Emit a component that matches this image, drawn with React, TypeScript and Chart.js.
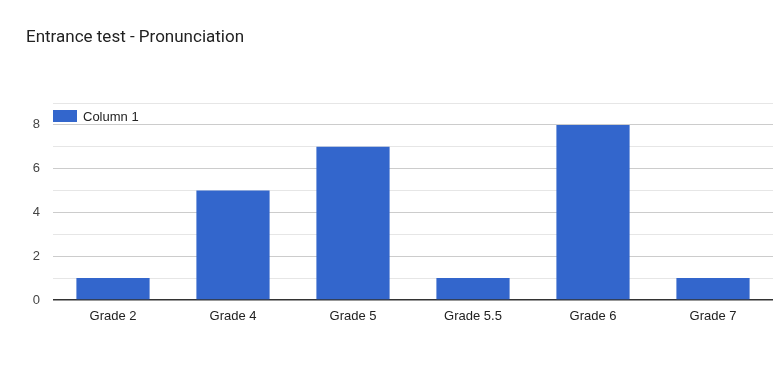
import React, { useEffect, useRef } from "react";
import { Chart, registerables } from "chart.js";

Chart.register(...registerables);

const TITLE = "Entrance test - Pronunciation";
const SERIES_LABEL = "Column 1";
const CATEGORIES = ["Grade 2", "Grade 4", "Grade 5", "Grade 5.5", "Grade 6", "Grade 7"];
const VALUES = [1, 5, 7, 1, 8, 1];
const Y_MAX = 9;
const BAR_COLOR = "#3366cc";

const FONT = "'Liberation Sans', Arial, sans-serif";

const overlayPlugin = {
  id: "overlay",
  afterDraw(chart: any) {
    const ctx = chart.ctx;
    const area = chart.chartArea;
    ctx.save();
    // title
    ctx.font = "17px Roboto, 'Noto Sans', sans-serif";
    ctx.fillStyle = "#222222";
    ctx.textAlign = "left";
    ctx.textBaseline = "middle";
    ctx.fillText(TITLE, 26, 37.5);
    // legend
    const ds = chart.data.datasets[0];
    ctx.fillStyle = ds.backgroundColor;
    ctx.fillRect(area.left, area.top + 7, 24, 12);
    ctx.font = "13px " + FONT;
    ctx.fillStyle = "#222222";
    ctx.fillText(ds.label, area.left + 30, area.top + 14);
    ctx.restore();
  },
};

export default function App() {
  const ref = useRef<HTMLCanvasElement>(null);
  useEffect(() => {
    if (!ref.current) return;
    const chart = new Chart(ref.current, {
      type: "bar",
      data: {
        labels: CATEGORIES,
        datasets: [
          {
            label: SERIES_LABEL,
            data: VALUES,
            backgroundColor: BAR_COLOR,
            borderWidth: 0,
            categoryPercentage: 1,
            barPercentage: 0.61,
          },
        ],
      },
      options: {
        animation: false,
        responsive: false,
        maintainAspectRatio: false,
        layout: { padding: { left: 0, right: 0, top: 103, bottom: 48 } },
        plugins: {
          legend: { display: false },
          title: { display: false },
          tooltip: { enabled: false },
        },
        scales: {
          x: {
            grid: { display: false, drawTicks: false },
            border: { display: false },
            ticks: {
              color: "#222222",
              font: { family: FONT, size: 13 },
              padding: 9,
              maxRotation: 0,
            },
            afterFit: (s: any) => {
              s.height = 30;
            },
          },
          y: {
            min: 0,
            max: Y_MAX,
            grid: {
              drawTicks: false,
              color: (c: any) => {
                const v = c.tick ? c.tick.value : 0;
                if (v === 0) return "#333333";
                return v % 2 === 0 ? "#cccccc" : "#e6e6e6";
              },
              lineWidth: (c: any) => (c.tick && c.tick.value === 0 ? 1.5 : 1),
            },
            border: { display: false },
            ticks: {
              stepSize: 1,
              color: "#444444",
              font: { family: FONT, size: 13 },
              padding: 13,
              callback: (v: any) => (Number(v) % 2 === 0 && Number(v) < Y_MAX ? String(v) : ""),
            },
            afterFit: (s: any) => {
              s.width = 53;
            },
          },
        },
      },
      plugins: [overlayPlugin],
    });
    return () => chart.destroy();
  }, []);
  return (
    <div style={{ position: "fixed", left: 0, top: 0, width: 773, height: 378, background: "#fff" }}>
      <canvas ref={ref} width={773} height={378} style={{ width: 773, height: 378 }} />
    </div>
  );
}
